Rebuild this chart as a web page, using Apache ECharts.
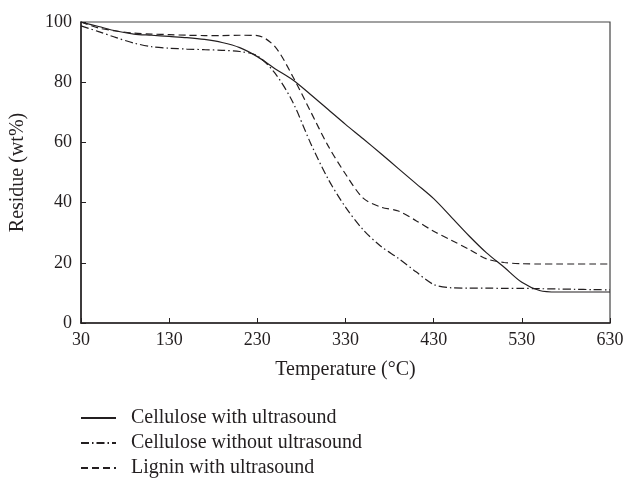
<!DOCTYPE html>
<html>
<head>
<meta charset="utf-8">
<script src="https://cdn.jsdelivr.net/npm/echarts@6/dist/echarts.min.js"></script>
<style>
  html, body { margin: 0; padding: 0; background: #fff; }
  #chart { width: 629px; height: 480px; }
</style>
</head>
<body>
<div id="chart"></div>
<script>
  // temperature (°C) sampled along the curves
  const temps = [30, 50, 70, 90, 110, 130, 150, 170, 190, 210, 230, 250, 270, 290, 310,
    330, 350, 370, 390, 410, 430, 450, 470, 490, 510, 530, 550, 570, 590, 610, 630]

  // residue (wt%)
  const celluloseWith = [100, 98.5, 97, 96, 95.6, 95.2, 94.8, 94.2, 93.2, 91.5, 88.5, 84.5, 80.8, 76, 71,
    66, 61.2, 56.3, 51.3, 46.3, 41.3, 35.2, 29, 23.3, 18.5, 13.5, 10.8, 10.3, 10.3, 10.3, 10.3]
  const celluloseWithout = [98.7, 96.8, 94.8, 93, 91.8, 91.3, 91, 90.8, 90.6, 90.2, 88.8, 83, 73.5, 60, 48,
    38.5, 31, 25.5, 21.5, 17, 12.8, 11.7, 11.6, 11.6, 11.5, 11.5, 11.4, 11.3, 11.2, 11.1, 11]
  const ligninWith = [100, 98, 97, 96.3, 96, 95.8, 95.6, 95.5, 95.5, 95.6, 95.5, 91.8, 82, 70.5, 59,
    49.5, 41.5, 38.5, 37.2, 34, 30.5, 27.5, 24.5, 21.3, 20.1, 19.7, 19.6, 19.6, 19.6, 19.6, 19.6]

  const xTicks = [30, 130, 230, 330, 430, 530, 630]
  const yTicks = [0, 20, 40, 60, 80, 100]

  const names = ['Cellulose with ultrasound', 'Cellulose without ultrasound', 'Lignin with ultrasound']
  const font = 'Liberation Serif'
  const ink = '#231f20'

  const pair = arr => temps.map((t, i) => [t, arr[i]])

  function lineSeries (name, data, dash) {
    return {
      name: name,
      type: 'line',
      smooth: 0.3,
      showSymbol: false,
      symbol: 'none',
      data: pair(data),
      lineStyle: { color: ink, width: 1.2, type: dash },
      itemStyle: { color: ink }
    }
  }

  const chart = echarts.init(document.getElementById('chart'), null, { renderer: 'canvas' })
  chart.setOption({
    animation: false,
    backgroundColor: '#fff',
    textStyle: { fontFamily: font, color: ink },
    grid: {
      left: 81, right: 19, top: 22, bottom: 157,
      show: true, borderColor: '#444', borderWidth: 1.2, backgroundColor: 'transparent'
    },
    legend: {
      orient: 'vertical',
      left: 80, top: 408, padding: 0,
      itemWidth: 35, itemHeight: 14, itemGap: 5,
      itemStyle: { opacity: 0 },
      textStyle: { fontFamily: font, fontSize: 20, color: ink, padding: [0, 0, 0, 10] },
      data: names
    },
    xAxis: {
      type: 'value',
      min: xTicks[0], max: xTicks[xTicks.length - 1], interval: 100,
      name: 'Temperature (°C)',
      nameLocation: 'middle', nameGap: 37,
      nameTextStyle: { fontFamily: font, fontSize: 20, color: ink },
      axisLine: { lineStyle: { color: ink, width: 1.5 } },
      axisTick: { inside: true, length: 5, lineStyle: { color: ink } },
      axisLabel: { fontFamily: font, fontSize: 18, color: ink, margin: 8 },
      splitLine: { show: false }
    },
    yAxis: {
      type: 'value',
      min: yTicks[0], max: yTicks[yTicks.length - 1], interval: 20,
      name: 'Residue (wt%)',
      nameLocation: 'middle', nameGap: 53,
      nameTextStyle: { fontFamily: font, fontSize: 20, color: ink },
      axisLine: { show: true, lineStyle: { color: ink, width: 1.5 } },
      axisTick: { show: true, inside: true, length: 5, lineStyle: { color: ink } },
      axisLabel: { fontFamily: font, fontSize: 18, color: ink, margin: 9 },
      splitLine: { show: false }
    },
    series: [
      lineSeries(names[0], celluloseWith, 'solid'),
      lineSeries(names[1], celluloseWithout, [8, 3, 1.5, 3]),
      lineSeries(names[2], ligninWith, [7, 4])
    ]
  })
</script>
</body>
</html>
